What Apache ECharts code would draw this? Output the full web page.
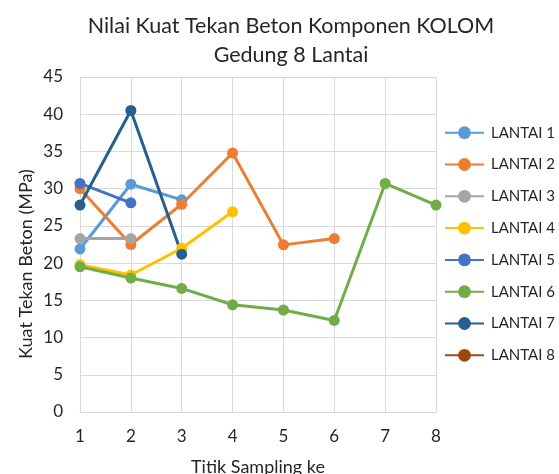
<!DOCTYPE html>
<html><head><meta charset="utf-8">
<script src="https://cdn.jsdelivr.net/npm/echarts@6/dist/echarts.min.js"></script>
<style>html,body{margin:0;padding:0;background:#fff}#c{width:559px;height:474px}</style>
</head><body><div id="c"></div>
<script>
const seriesNames = ['LANTAI 1','LANTAI 2','LANTAI 3','LANTAI 4','LANTAI 5','LANTAI 6','LANTAI 7','LANTAI 8'];
const colors = ['#5B9BD5','#ED7D31','#A5A5A5','#FFC000','#4472C4','#70AD47','#255E91','#9E480E'];
const lantai1 = [21.9, 30.6, 28.5];
const lantai2 = [30.0, 22.5, 27.9, 34.8, 22.45, 23.3];
const lantai3 = [23.3, 23.3];
const lantai4 = [19.8, 18.4, 22.0, 26.9];
const lantai5 = [30.7, 28.1];
const lantai6 = [19.5, 18.0, 16.6, 14.4, 13.7, 12.3, 30.7, 27.8];
const lantai7 = [27.8, 40.5, 21.2];
const lantai8 = [];
const allData = [lantai1, lantai2, lantai3, lantai4, lantai5, lantai6, lantai7, lantai8];
const yTicks = [0,5,10,15,20,25,30,35,40,45];
const xTicks = [1,2,3,4,5,6,7,8];
const yAxisTitle = 'Kuat Tekan Beton (MPa)';
const font = 'Lato, "Open Sans", sans-serif';

const chart = echarts.init(document.getElementById('c'));
chart.setOption({
  animation: false,
  color: colors,
  title: {
    text: 'Nilai Kuat Tekan Beton Komponen KOLOM\nGedung 8 Lantai',
    left: 286, top: 7, textAlign: 'center',
    textStyle: {fontFamily: font, fontSize: 21.5, fontWeight: 'normal', color: '#262626', lineHeight: 29}
  },
  graphic: [{
    type: 'text', x: 26, y: 264, rotation: Math.PI / 2,
    style: {text: yAxisTitle, fontFamily: font, fontSize: 18, fill: '#262626', align: 'center', verticalAlign: 'middle'}
  }],
  legend: {
    orient: 'vertical', left: 444, top: 124.7, padding: 0,
    itemWidth: 39, itemHeight: 16, itemGap: 15.8,
    textStyle: {fontFamily: font, fontSize: 15, lineHeight: 16, color: '#262626', padding: [0,0,0,2]},
    data: seriesNames
  },
  grid: {left: 80, right: 123, top: 77, bottom: 62, containLabel: false, outerBoundsMode: 'none'},
  xAxis: {
    type: 'value', min: xTicks[0], max: xTicks[xTicks.length-1], interval: 1,
    name: 'Titik Sampling ke', nameLocation: 'middle', nameGap: 46,
    nameTextStyle: {fontFamily: font, fontSize: 18, color: '#262626'},
    axisLine: {show: true, lineStyle: {color: '#D9D9D9', width: 1}},
    axisTick: {show: false},
    axisLabel: {fontFamily: font, fontSize: 17, color: '#262626', margin: 16},
    splitLine: {show: true, lineStyle: {color: '#D9D9D9', width: 1}}
  },
  yAxis: {
    type: 'value', min: yTicks[0], max: yTicks[yTicks.length-1], interval: 5,
    axisLine: {show: false},
    axisTick: {show: false},
    axisLabel: {fontFamily: font, fontSize: 17, color: '#262626', margin: 17},
    splitLine: {show: true, lineStyle: {color: '#D9D9D9', width: 1}}
  },
  series: seriesNames.map((n, i) => ({
    name: n, type: 'line',
    data: allData[i].map((v, j) => [xTicks[j], v]),
    symbol: 'circle', symbolSize: 11,
    lineStyle: {width: 3, color: colors[i]},
    itemStyle: {color: colors[i]}
  }))
});
</script></body></html>
